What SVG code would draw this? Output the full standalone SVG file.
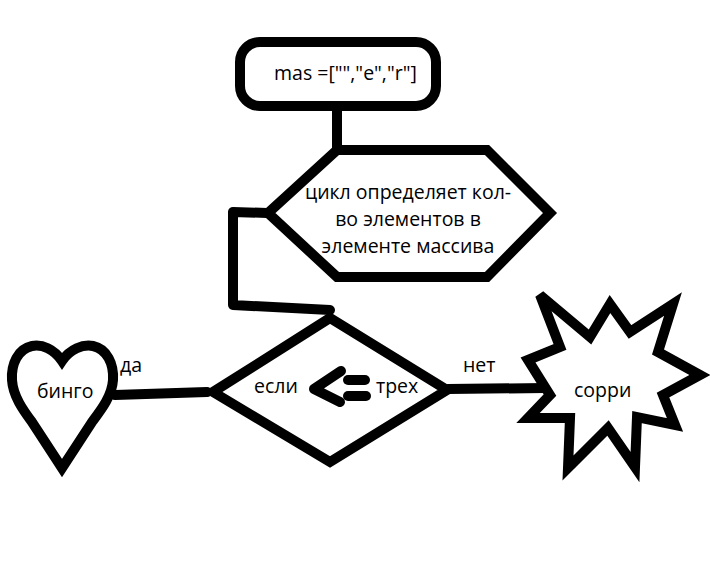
<svg xmlns="http://www.w3.org/2000/svg" width="710" height="578" viewBox="0 0 710 578">
<style>
.shape{fill:#fff;stroke:#000;stroke-width:10;stroke-linejoin:miter}
.conn{fill:none;stroke:#000;stroke-width:10;stroke-linecap:round;stroke-linejoin:round}
.t{font-family:"Open Sans","Noto Sans","DejaVu Sans",sans-serif;font-size:19.5px;fill:#000}
</style>
<rect width="710" height="578" fill="#fff"/>
<g id="connectors">
<line class="conn" x1="337" y1="108" x2="337" y2="150" stroke-linecap="butt"/>
<polyline class="conn" points="267,213 233,212 233,305 330,310"/>
<line class="conn" x1="115" y1="395" x2="207" y2="392"/>
<line class="conn" x1="448" y1="389" x2="545" y2="388"/>
</g>
<g id="start">
<rect class="shape" x="240" y="42" width="196" height="64" rx="20" ry="20"/>
<text class="t" x="274" y="80">mas =["","e","r"]</text>
</g>
<g id="loop">
<polygon class="shape" points="337,150 487,150 550,213 487,277 337,277 268,213"/>
<text class="t" text-anchor="middle" x="408" y="199">цикл определяет кол-</text>
<text class="t" text-anchor="middle" x="408" y="226">во элементов в</text>
<text class="t" text-anchor="middle" x="408" y="253">элементе массива</text>
</g>
<g id="decision">
<polygon class="shape" points="330,318 447,390 330,462 213,392"/>
<text class="t" x="254" y="393">если</text>
<g class="conn" stroke-width="9">
<polyline points="341,371 314,389 340,402"/>
<line x1="348" y1="380" x2="365" y2="380"/>
<line x1="348" y1="396" x2="366" y2="396"/>
</g>
<text class="t" x="376" y="393">трех</text>
</g>
<g id="yes">
<path class="shape" d="M62,361 C54,349 42,344 32,346 C18,349 11,364 12,380 C13,396 23,410 32,422 L62,468 L92,422 C101,410 112,396 113,380 C114,364 107,349 93,346 C83,344 70,349 62,361 Z"/>
<text class="t" x="37" y="398">бинго</text>
<text class="t" x="120" y="372">да</text>
</g>
<g id="no">
<polygon class="shape" stroke-width="9" points="540,295 590,337 610,304 630,332 673,304 658,352 700,375 663,395 675,425 637,417 635,467 608,428 568,468 570,418 528,418 550,395 528,360 560,347"/>
<text class="t" x="574" y="397">сорри</text>
<text class="t" x="463" y="372">нет</text>
</g>
</svg>
